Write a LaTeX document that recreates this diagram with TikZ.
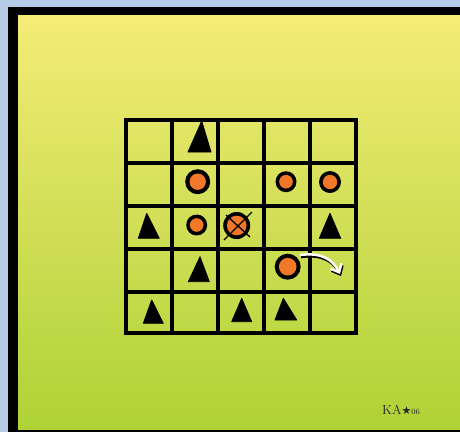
\documentclass[tikz,border=0pt]{standalone}
\usepackage{fontspec}
\newfontfamily\djv{DejaVu Sans}
\usetikzlibrary{arrows.meta}
\definecolor{skyb}{HTML}{B6CCE6}
\definecolor{topyel}{HTML}{F4EC76}
\definecolor{botgrn}{HTML}{AED236}
\definecolor{dotor}{HTML}{F07828}
\tikzset{
  gridline/.style={line width=4.2pt,line cap=rect},
  conefill/.style={fill=black,draw=black,line width=0.8pt,line join=round},
}
\newcommand{\spot}[4]{\fill[black] (#1,#2) circle[radius=#3];\fill[dotor] (#1,#2) circle[radius=#4];}
\begin{document}
\begin{tikzpicture}[x=1pt,y=-1pt]
\useasboundingbox (0,0) rectangle (460,432);
\fill[skyb] (0,0) rectangle (460,432);
\fill[black] (8,7) rectangle (460,432);
\shade[top color=topyel,bottom color=botgrn] (18,15.5) rectangle (460,429);
% grid
\foreach \x in {126,172,218,264,310,356} \draw[gridline] (\x,120) -- (\x,333);
\foreach \y in {120,163,206,249,292,333} \draw[gridline] (126,\y) -- (356,\y);
% cones
\fill[conefill] (201.7,121) -- (188,152) -- (211,152) -- cycle;
\fill[conefill] (146.7,213.3) -- (138.3,238.3) -- (159.3,238.3) -- cycle;
\fill[conefill] (330,213.3) -- (319.3,238.3) -- (340.7,238.3) -- cycle;
\fill[conefill] (200,256.7) -- (188.3,281.7) -- (209.3,281.7) -- cycle;
\fill[conefill] (151.7,300) -- (143.3,323.3) -- (163.3,323.3) -- cycle;
\fill[conefill] (241.7,298.3) -- (231.7,321.7) -- (251.7,321.7) -- cycle;
\fill[conefill] (283.3,298.3) -- (275,320) -- (296.7,320) -- cycle;
% spots
\spot{197.7}{181.7}{12.5}{8.2}
\spot{286}{181.7}{10.5}{6.8}
\spot{330}{182}{11}{7.2}
\spot{196.7}{225}{10.5}{6.8}
\spot{236.7}{225.5}{13.5}{9.8}
\spot{287.7}{266.7}{13}{8.8}
% cross
\draw[black,line width=1.3pt] (224,240) -- (252,212);
\draw[black,line width=1.3pt] (226,215) -- (250,237);
% move arrow
\draw[black,line width=2.5pt,-{Straight Barb[length=7pt,width=12pt]}] (301,257) .. controls (323,254) and (334,262) .. (341,276);
\draw[white,line width=2.5pt,-{Straight Barb[length=7pt,width=12pt]}] (300,255) .. controls (322,252) and (333,260) .. (340,274);
% signature
\node[font=\fontsize{13}{13}\selectfont,inner sep=0pt,text=black!85] (sig) at (401,410) {KA{\djv\fontsize{11}{11}\selectfont★}{\fontsize{8}{8}\selectfont 06}};
\end{tikzpicture}
\end{document}
